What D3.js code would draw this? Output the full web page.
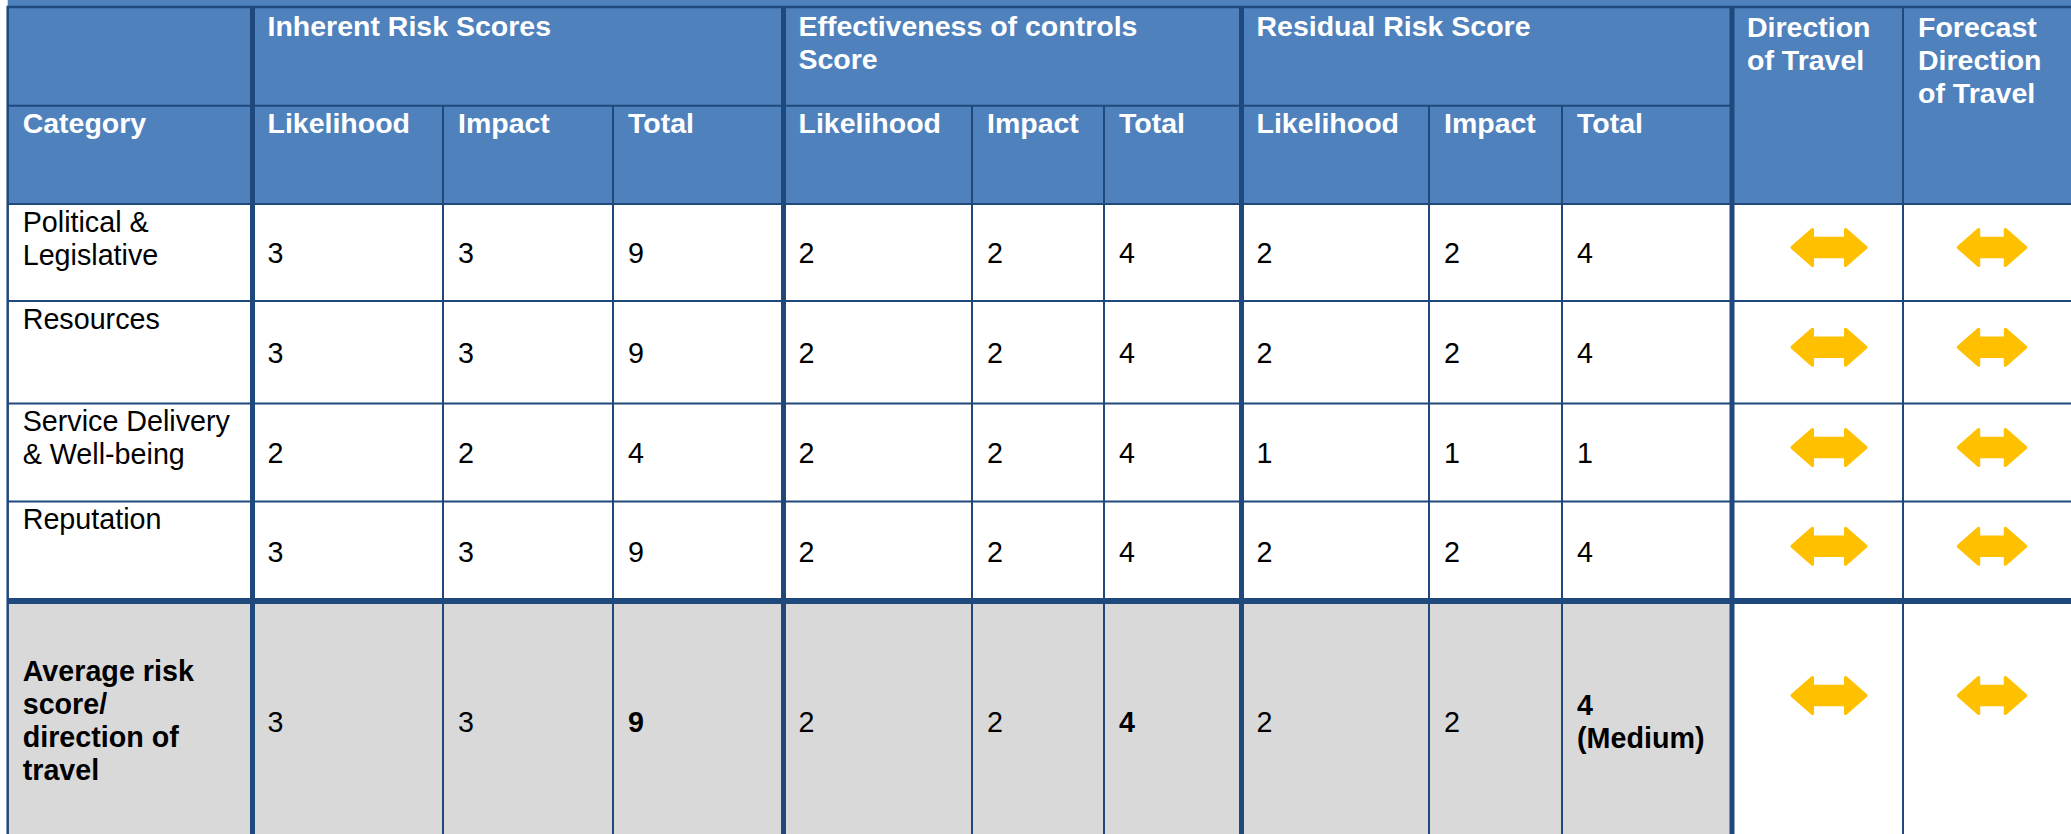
<!DOCTYPE html>
<html><head><meta charset="utf-8">
<script src="https://cdn.jsdelivr.net/npm/d3@7"></script>
<style>html,body{margin:0;padding:0;background:#fff;overflow:hidden}</style>
</head><body><svg id="c" width="2071" height="834"></svg>
<script>
// ---------- DATA ----------
const categories = [["Political &","Legislative"],["Resources"],["Service Delivery","& Well-being"],["Reputation"]];
const inherentLikelihood = [3,3,2,3];
const inherentImpact     = [3,3,2,3];
const inherentTotal      = [9,9,4,9];
const controlsLikelihood = [2,2,2,2];
const controlsImpact     = [2,2,2,2];
const controlsTotal      = [4,4,4,4];
const residualLikelihood = [2,2,1,2];
const residualImpact     = [2,2,1,2];
const residualTotal      = [4,4,1,4];
const directionOfTravel  = ["steady","steady","steady","steady"];
const forecastDirection  = ["steady","steady","steady","steady"];
const averageLabel       = ["Average risk","score/","direction of","travel"];
const averageValues      = [["3"],["3"],["9"],["2"],["2"],["4"],["2"],["2"],["4","(Medium)"]];
const averageBold        = [false,false,true,false,false,true,false,false,true];
const averageDirection   = "steady";
const averageForecast    = "steady";
const groupHeaders       = [["Inherent Risk Scores"],["Effectiveness of controls","Score"],["Residual Risk Score"]];
const subHeaders         = ["Likelihood","Impact","Total"];
const categoryHeader     = "Category";
const directionHeader    = ["Direction","of Travel"];
const forecastHeader     = ["Forecast","Direction","of Travel"];

// ---------- LAYOUT ----------
const W = 2071, H = 834;
const BLUE = "#4F81BD", LINE = "#1F497D", GREY = "#D9D9D9", ARROW = "#FFC000";
const FONT = "'Liberation Sans', Arial, sans-serif";
const HFS = 28.5, BFS = 28.7, LH = 33;
const colKeys = ["cat","inL","inI","inT","efL","efI","efT","reL","reI","reT","dir","fc"];
const colEdges = [7.7, 252.5, 443, 613, 783.5, 972, 1104, 1241.5, 1429, 1562, 1732, 1903, 2081];
const x0 = d3.scaleOrdinal().domain(colKeys).range(colEdges.slice(0,-1));
const x1 = d3.scaleOrdinal().domain(colKeys).range(colEdges.slice(1));
const rowKeys = ["h1","h2","r0","r1","r2","r3","avg"];
const rowEdges = [7, 105.7, 204, 301, 403.5, 501.5, 601, 842];
const y0 = d3.scaleOrdinal().domain(rowKeys).range(rowEdges.slice(0,-1));
const y1 = d3.scaleOrdinal().domain(rowKeys).range(rowEdges.slice(1));
const PAD = 15;

const svg = d3.select("#c");
const gFill = svg.append("g"), gLines = svg.append("g"), gText = svg.append("g"), gArrow = svg.append("g");

// fills
gFill.append("rect").attr("x",colEdges[0]).attr("y",0).attr("width",W).attr("height",y1("h2")).attr("fill",BLUE);
["r0","r1","r2","r3","avg"].forEach(r=>{
  colKeys.forEach(c=>{
    const grey = r==="avg" && c!=="dir" && c!=="fc";
    gFill.append("rect").attr("x",x0(c)).attr("y",y0(r)).attr("width",x1(c)-x0(c)).attr("height",y1(r)-y0(r))
      .attr("fill",grey?GREY:"#fff");
  });
});

// text helper
function lines(g, arr, x, yBase, opts){
  const t = g.append("text").attr("x",x).attr("y",yBase)
    .attr("font-family",FONT).attr("font-size",opts.size)
    .attr("font-weight",opts.bold?"bold":"normal").attr("fill",opts.color);
  arr.forEach((s,i)=>t.append("tspan").attr("x",x).attr("y",yBase+i*LH).text(s));
  return t;
}
const capHalf = s => s*0.716/2;

// header row 1
const groupCols = ["inL","efL","reL"];
groupHeaders.forEach((h,i)=>lines(gText,h,x0(groupCols[i])+PAD,y0("h1")+29,{size:HFS,bold:true,color:"#fff"}));
lines(gText,directionHeader,x0("dir")+PAD,y0("h1")+29.5,{size:HFS,bold:true,color:"#fff"});
lines(gText,forecastHeader,x0("fc")+PAD,y0("h1")+29.5,{size:HFS,bold:true,color:"#fff"});
// header row 2
lines(gText,[categoryHeader],x0("cat")+PAD,y0("h2")+27.5,{size:HFS,bold:true,color:"#fff"});
["in","ef","re"].forEach(p=>{
  ["L","I","T"].forEach((s,j)=>lines(gText,[subHeaders[j]],x0(p+s)+PAD,y0("h2")+27.5,{size:HFS,bold:true,color:"#fff"}));
});

// body rows
const series = {inL:inherentLikelihood,inI:inherentImpact,inT:inherentTotal,efL:controlsLikelihood,efI:controlsImpact,efT:controlsTotal,reL:residualLikelihood,reI:residualImpact,reT:residualTotal};
const bodyRows = ["r0","r1","r2","r3"];
bodyRows.forEach((r,i)=>{
  lines(gText,categories[i],x0("cat")+PAD,y0(r)+27.5,{size:BFS,bold:false,color:"#000"});
  const cy = (y0(r)+y1(r))/2;
  Object.keys(series).forEach(k=>{
    lines(gText,[String(series[k][i])],x0(k)+PAD,cy+capHalf(BFS),{size:BFS,bold:false,color:"#000"});
  });
});
// average row
const avgCy = (y0("avg")+y1("avg"))/2;
lines(gText,averageLabel,x0("cat")+PAD,avgCy-1-(averageLabel.length-1)/2*LH+capHalf(BFS),{size:BFS,bold:true,color:"#000"});
Object.keys(series).forEach((k,j)=>{
  const v = averageValues[j];
  lines(gText,v,x0(k)+PAD,avgCy-(v.length-1)/2*LH+capHalf(BFS),{size:BFS,bold:averageBold[j],color:"#000"});
});

// arrows
function arrowPath(w,h,shaft,head){
  const a=w/2, b=h/2, s=shaft/2;
  return `M${-a},0 L${-a+head},${-b} L${-a+head},${-s} L${a-head},${-s} L${a-head},${-b} L${a},0 L${a-head},${b} L${a-head},${s} L${-a+head},${s} L${-a+head},${b} Z`;
}
const arrowSpec = {dir:{w:74,dx:97},fc:{w:67.6,dx:89}};
function drawArrow(col, cy, kind){
  if(kind!=="steady") return;
  const sp = arrowSpec[col];
  gArrow.append("path").attr("d",arrowPath(sp.w,36,18.6,20.5))
    .attr("transform",`translate(${x0(col)+sp.dx},${cy})`)
    .attr("fill",ARROW).attr("stroke",ARROW).attr("stroke-width",3).attr("stroke-linejoin","round");
}
bodyRows.forEach((r,i)=>{
  const cy = (y0(r)+y1(r))/2 - 5;
  drawArrow("dir",cy,directionOfTravel[i]);
  drawArrow("fc",cy,forecastDirection[i]);
});
drawArrow("dir",avgCy-26,averageDirection);
drawArrow("fc",avgCy-26,averageForecast);

// lines
function hline(y,xa,xb,w){gLines.append("line").attr("x1",xa).attr("x2",xb).attr("y1",y).attr("y2",y).attr("stroke",LINE).attr("stroke-width",w);}
function vline(x,ya,yb,w){gLines.append("line").attr("x1",x).attr("x2",x).attr("y1",ya).attr("y2",yb).attr("stroke",LINE).attr("stroke-width",w);}
hline(y0("h1"),colEdges[0],W,2.5);
hline(y0("h2"),colEdges[0],x0("dir"),2);
["r0","r1","r2","r3"].forEach(r=>hline(y0(r),colEdges[0],W,2));
hline(y0("avg"),colEdges[0],W,6);
vline(colEdges[0],y0("h1")-1.25,H,2.5);
["inL","efL","reL","dir"].forEach(c=>vline(x0(c),y0("h1"),H,5));
["inI","inT","efI","efT","reI","reT"].forEach(c=>vline(x0(c),y0("h2"),H,2));
vline(x0("fc"),y0("h1"),H,2);
</script></body></html>
